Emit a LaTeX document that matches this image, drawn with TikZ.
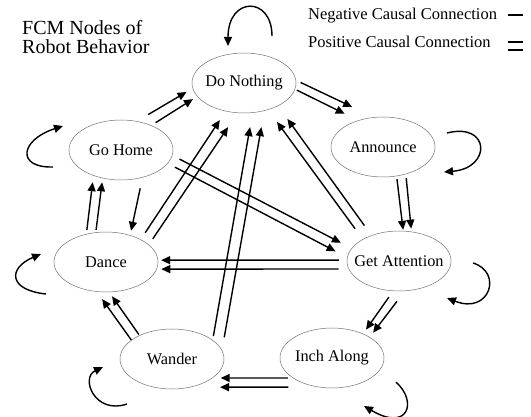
\documentclass[tikz,border=0pt]{standalone}
\usepackage{fontspec}
\setmainfont{Liberation Serif}
\usetikzlibrary{shapes,arrows.meta,positioning,calc}

\begin{document}
\begin{tikzpicture}[x=1pt, y=-1pt, every label/.style={font=\fontsize{16.3}{18}\selectfont}]
	\tikzstyle{Behavior} = [ellipse, draw=black!55, line width=0.5pt, minimum width=104pt, minimum height=60pt, inner sep=0pt]
	\tikzstyle{Causal}   = [-{Triangle[length=9pt, width=8pt]}, line width=1.4pt]
	\tikzstyle{Legend}   = [line width=1.7pt]
	\tikzstyle{Caption}  = [anchor=base west, inner sep=0pt]

	\useasboundingbox (0,0) rectangle (531,417);

	% title and legend
	\node (title1) at (22,35) [Caption, font=\fontsize{20}{20}\selectfont] {FCM Nodes of};
	\node (title2) at (22,54) [Caption, font=\fontsize{20}{20}\selectfont] {Robot Behavior};
	\node (negtext) at (308,20) [Caption, font=\fontsize{16.5}{18}\selectfont] {Negative Causal Connection};
	\node (postext) at (308,48) [Caption, font=\fontsize{16.5}{18}\selectfont] {Positive Causal Connection};
	\coordinate (neg1) at (508,15);  \coordinate (neg2) at (523,15);
	\coordinate (pos1) at (508,42);  \coordinate (pos2) at (523,42);
	\coordinate (pos3) at (508,50);  \coordinate (pos4) at (523,50);
	\draw [Legend] (neg1) -- (neg2);
	\draw [Legend] (pos1) -- (pos2);
	\draw [Legend] (pos3) -- (pos4);

	% behaviour nodes
	\node (donothing)    at (244,83)  [Behavior, label=center:{Do Nothing}] {};
	\node (gohome)       at (121,150) [Behavior, label=center:{Go Home}] {};
	\node (announce)     at (383,147) [Behavior, label=center:{Announce}] {};
	\node (dance)        at (106,262) [Behavior, label=center:{Dance}] {};
	\node (getattention) at (399,261) [Behavior, label=center:{Get Attention}] {};
	\node (wander)       at (172,359) [Behavior, label=center:{Wander}] {};
	\node (inchalong)    at (332,358) [Behavior, label=center:{Inch Along}] {};

	% positive connections (double)
	\draw [Causal, shorten <=13pt, shorten >=7pt] (gohome.61) -- (donothing.186);
	\draw [Causal, shorten <=5pt, shorten >=5pt] (gohome.39) -- (donothing.196);
	\draw [Causal, shorten <=5pt, shorten >=24pt] (donothing.3) -- (announce.107);
	\draw [Causal, shorten <=2pt, shorten >=15pt] (donothing.353) -- (announce.133);
	\draw [Causal, shorten <=3pt, shorten >=1pt] (announce.295) -- (getattention.82);
	\draw [Causal, shorten <=4pt, shorten >=3pt] (announce.310) -- (getattention.67);
	\draw [Causal, shorten <=13pt, shorten >=15pt] (getattention.149) -- (donothing.312);
	\draw [Causal, shorten <=12pt, shorten >=16pt] (getattention.137) -- (donothing.326);
	\draw [Causal, shorten <=7.5pt, shorten >=5pt] (getattention.259) -- (inchalong.38);
	\draw [Causal, shorten <=13pt, shorten >=5.5pt] (getattention.281) -- (inchalong.29);
	\draw [Causal, shorten <=5pt, shorten >=8pt] (inchalong.207) -- (wander.335);
	\draw [Causal, shorten <=30pt, shorten >=29pt] (inchalong.245) -- (wander.304);
	\draw [Causal, shorten >=9pt] (wander.155) -- (dance.253);
	\draw [Causal, shorten <=1pt, shorten >=5pt] (wander.144) -- (dance.276);
	\draw [Causal, shorten <=4pt, shorten >=6.5pt] (dance.125) -- (gohome.223);
	\draw [Causal, shorten <=2.5pt, shorten >=4pt] (dance.109) -- (gohome.237);
	\draw [Causal, shorten <=8pt, shorten >=10.5pt] (dance.33) -- (donothing.237);
	\draw [Causal, shorten <=7pt, shorten >=17pt] (dance.22) -- (donothing.258);
	\draw [Causal, shorten <=4pt, shorten >=14.5pt] (wander.25) -- (donothing.286);
	\draw [Causal, shorten <=13pt, shorten >=16.5pt] (wander.10) -- (donothing.306);
	\draw [Causal, shorten <=8pt, shorten >=12pt] (gohome.354) -- (getattention.165);
	\draw [Causal, shorten <=8pt, shorten >=13pt] (gohome.344) -- (getattention.176);
	\draw [Causal, shorten <=8pt, shorten >=3pt] (getattention.179) -- (dance.2);
	\draw [Causal, shorten <=10pt, shorten >=4.5pt] (getattention.189) -- (dance.352);

	% negative connection (single)
	\draw [Causal, shorten <=11pt, shorten >=4.5pt] (gohome.308) -- (dance.48);

	% self loops
	\draw [Causal] ($(donothing)+(28,-47)$) .. controls ($(donothing)+(28,-87)$) and ($(donothing)+(-16,-87)$) .. ($(donothing)+(-16,-37)$);
	\draw [Causal] ($(gohome)+(-68,17)$) .. controls ($(gohome)+(-105,18)$) and ($(gohome)+(-101,-10)$) .. ($(gohome)+(-58,-24)$);
	\draw [Causal] ($(announce)+(64,-14)$) .. controls ($(announce)+(107,-25)$) and ($(announce)+(109,21)$) .. ($(announce)+(61,25)$);
	\draw [Causal] ($(dance)+(-60,32)$) .. controls ($(dance)+(-98,28)$) and ($(dance)+(-98,6)$) .. ($(dance)+(-65,-8)$);
	\draw [Causal] ($(getattention)+(74,2)$) .. controls ($(getattention)+(104,11)$) and ($(getattention)+(91,54)$) .. ($(getattention)+(48,37)$);
	\draw [Causal] ($(wander)+(-45,45)$) .. controls ($(wander)+(-77,56)$) and ($(wander)+(-92,19)$) .. ($(wander)+(-69,8)$);
	\draw [Causal] ($(inchalong)+(64,24)$) .. controls ($(inchalong)+(86,44)$) and ($(inchalong)+(76,74)$) .. ($(inchalong)+(32,48)$);
\end{tikzpicture}
\end{document}
